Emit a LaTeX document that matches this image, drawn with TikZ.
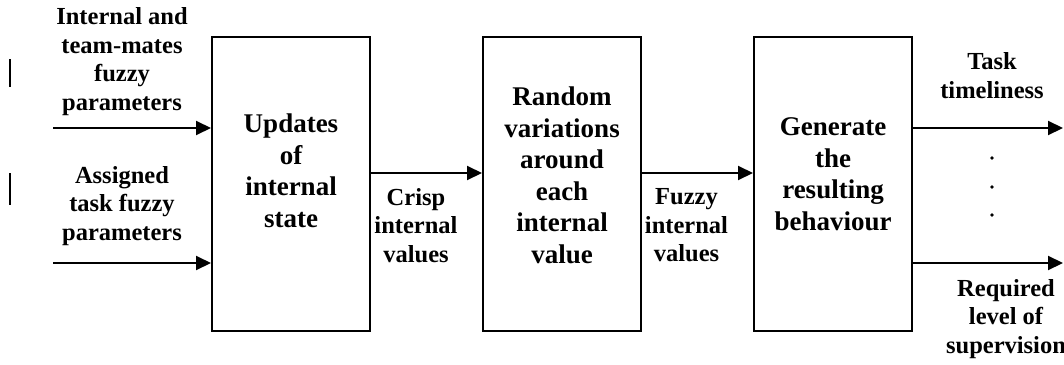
\documentclass[tikz,border=0pt]{standalone}
\usepackage{fontspec}
\setmainfont{Liberation Serif}
\usetikzlibrary{arrows.meta}
\begin{document}
\begin{tikzpicture}[x=1pt,y=-1pt,
    stage/.style={draw,line width=2pt,minimum width=158pt,minimum height=294pt,inner sep=0pt},
    stagetext/.style={align=center,inner sep=0pt,font=\fontsize{27}{31.5}\selectfont\bfseries},
    signal/.style={align=center,inner sep=0pt,font=\fontsize{24.5}{28.5}\selectfont\bfseries},
    flow/.style={line width=2pt,-{Triangle[length=15pt,width=14pt]}}]

    \useasboundingbox (0,0) rectangle (1064,364);

    % the three stages
    \node[stage] (upd) at (291,184) {};
    \node[stage] (rnd) at (562,184) {};
    \node[stage] (gen) at (833,184) {};

    \node[stagetext] (updtxt) at (291,171)   {Updates\\of\\internal\\state};
    \node[stagetext] (rndtxt) at (562,175.5) {Random\\variations\\around\\each\\internal\\value};
    \node[stagetext] (gentxt) at (833,174)   {Generate\\the\\resulting\\behaviour};

    % inputs
    \coordinate (in1) at (53,128);
    \coordinate (in2) at (53,263);
    \draw[flow] (in1) -- (in1 -| upd.west);
    \draw[flow] (in2) -- (in2 -| upd.west);

    \node[signal] (teamtxt) at (122,61.8)  {Internal and\\team-mates\\fuzzy\\parameters};
    \node[signal] (tasktxt) at (122,205.8) {Assigned\\task fuzzy\\parameters};

    \draw[line width=2.3pt] (10,59) -- (10,87);
    \draw[line width=2.3pt] (10,173) -- (10,205);

    % between the stages
    \draw[flow] (upd.east |- 0,173) -- (rnd.west |- 0,173);
    \draw[flow] (rnd.east |- 0,173) -- (gen.west |- 0,173);

    \node[signal] (crisptxt) at (416,225.5)   {Crisp\\internal\\values};
    \node[signal] (fuzzytxt) at (686.5,225.5) {Fuzzy\\internal\\values};

    % outputs
    \coordinate (out1) at (1063,128);
    \coordinate (out2) at (1063,263);
    \draw[flow] (out1 -| gen.east) -- (out1);
    \draw[flow] (out2 -| gen.east) -- (out2);

    \foreach \y in {158,187,215} {
        \fill (992,\y) circle (1.8pt);
    }

    \node[signal] (timetxt) at (992,75.7)  {Task\\timeliness};
    \node[signal] (suptxt)  at (1006,318.8) {Required\\level of\\supervision};

\end{tikzpicture}
\end{document}
